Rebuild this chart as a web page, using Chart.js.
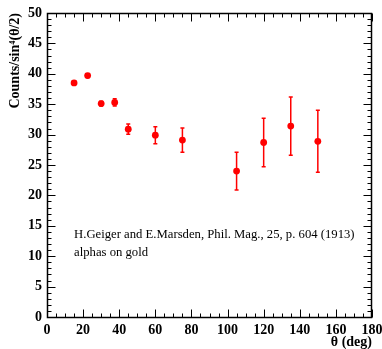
<!DOCTYPE html>
<html>
<head>
<meta charset="utf-8">
<script src="https://cdn.jsdelivr.net/npm/chart.js@4/dist/chart.umd.min.js"></script>
<style>
  html, body { margin: 0; padding: 0; background: #fff; }
  #wrap { width: 382px; height: 349px; }
</style>
</head>
<body>
<div id="wrap"><canvas id="plot" width="382" height="349"></canvas></div>
<script>
// Geiger-Marsden scattering data
const angles = [15, 22.5, 30, 37.5, 45, 60, 75, 105, 120, 135, 150];
const counts = [38.5, 39.7, 35.1, 35.3, 30.9, 29.9, 29.1, 24.0, 28.7, 31.4, 28.9];
const errors = [0.3, 0.3, 0.4, 0.6, 0.85, 1.4, 2.0, 3.1, 4.0, 4.8, 5.1];
const xTicks = [0, 20, 40, 60, 80, 100, 120, 140, 160, 180];
const yTicks = [0, 5, 10, 15, 20, 25, 30, 35, 40, 45, 50];
const noteLines = ['H.Geiger and E.Marsden, Phil. Mag., 25, p. 604 (1913)', 'alphas on gold'];

const serif = "'Liberation Serif', 'Times New Roman', serif";
const red = '#ff0000';

const frameTicks = {
    id: 'frameTicks',
    beforeDatasetsDraw(chart) {
        // error bars under the markers
        const ctx = chart.ctx, x = chart.scales.x, y = chart.scales.y;
        ctx.save();
        ctx.strokeStyle = red;
        ctx.lineWidth = 1.5;
        for (let i = 0; i < angles.length; i++) {
            const px = x.getPixelForValue(angles[i]);
            const top = y.getPixelForValue(counts[i] + errors[i]);
            const bot = y.getPixelForValue(counts[i] - errors[i]);
            ctx.beginPath();
            ctx.moveTo(px, top); ctx.lineTo(px, bot);
            ctx.moveTo(px - 2, top); ctx.lineTo(px + 2, top);
            ctx.moveTo(px - 2, bot); ctx.lineTo(px + 2, bot);
            ctx.stroke();
        }
        ctx.restore();
    },
    afterDraw(chart) {
        const ctx = chart.ctx, x = chart.scales.x, y = chart.scales.y;
        const a = chart.chartArea;
        ctx.save();
        ctx.strokeStyle = '#000';
        ctx.lineWidth = 1.5;
        const L = Math.round(a.left) + 0.5, R = Math.round(a.right) - 0.5;
        const T = Math.round(a.top) + 0.5, B = Math.round(a.bottom) + 0.5;
        ctx.strokeRect(L, T, R - L, B - T);
        ctx.lineWidth = 1;
        ctx.beginPath();
        for (let v = 0; v <= 180; v += 5) {
            const len = v % 20 === 0 ? 8 : 4;
            const px = Math.round(x.getPixelForValue(v)) + 0.5;
            ctx.moveTo(px, B); ctx.lineTo(px, B - len);
            ctx.moveTo(px, T); ctx.lineTo(px, T + len);
        }
        for (let v = 0; v <= 50; v += 1) {
            const len = v % 5 === 0 ? 8 : 4;
            const py = Math.round(y.getPixelForValue(v)) + 0.5;
            ctx.moveTo(L, py); ctx.lineTo(L + len, py);
            ctx.moveTo(R, py); ctx.lineTo(R - len, py);
        }
        ctx.stroke();

        // annotation
        ctx.fillStyle = '#000';
        ctx.font = '12.7px ' + serif;
        ctx.textBaseline = 'middle';
        ctx.textAlign = 'left';
        ctx.fillText(noteLines[0], x.getPixelForValue(15), y.getPixelForValue(13.5));
        ctx.fillText(noteLines[1], x.getPixelForValue(15), y.getPixelForValue(10.5));
        ctx.restore();
    }
};

const tickFont = { family: serif, size: 14, weight: 'bold' };

new Chart(document.getElementById('plot'), {
    type: 'scatter',
    data: {
        datasets: [{
            data: angles.map((a, i) => ({ x: a, y: counts[i] })),
            backgroundColor: red,
            borderColor: red,
            pointRadius: 3.4,
            pointHoverRadius: 3.4,
            borderWidth: 0
        }]
    },
    options: {
        responsive: false,
        animation: false,
        devicePixelRatio: 1,
        layout: { padding: { top: 13, right: 10, left: 0, bottom: 0 } },
        plugins: { legend: { display: false }, tooltip: { enabled: false } },
        scales: {
            x: {
                type: 'linear', min: 0, max: 180,
                afterBuildTicks: s => { s.ticks = xTicks.map(v => ({ value: v })); },
                afterFit: s => { s.height = 32; s.paddingLeft = 0; s.paddingRight = 0; },
                grid: { display: false, drawTicks: false },
                border: { display: false },
                ticks: { font: tickFont, color: '#000', padding: 5, maxRotation: 0, autoSkip: false },
                title: { display: true, text: 'θ (deg)', align: 'end', font: { family: serif, size: 14, weight: 'bold', lineHeight: 1 }, color: '#000', padding: 0 }
            },
            y: {
                type: 'linear', min: 0, max: 50,
                afterBuildTicks: s => { s.ticks = yTicks.map(v => ({ value: v })); },
                afterFit: s => { s.width = 47; s.paddingTop = 0; s.paddingBottom = 0; },
                grid: { display: false, drawTicks: false },
                border: { display: false },
                ticks: { font: tickFont, color: '#000', padding: 5, autoSkip: false },
                title: { display: true, text: 'Counts/sin⁴(θ/2)', align: 'end', font: tickFont, color: '#000', padding: { top: 6.5, bottom: 0 } }
            }
        }
    },
    plugins: [frameTicks]
});
</script>
</body>
</html>
